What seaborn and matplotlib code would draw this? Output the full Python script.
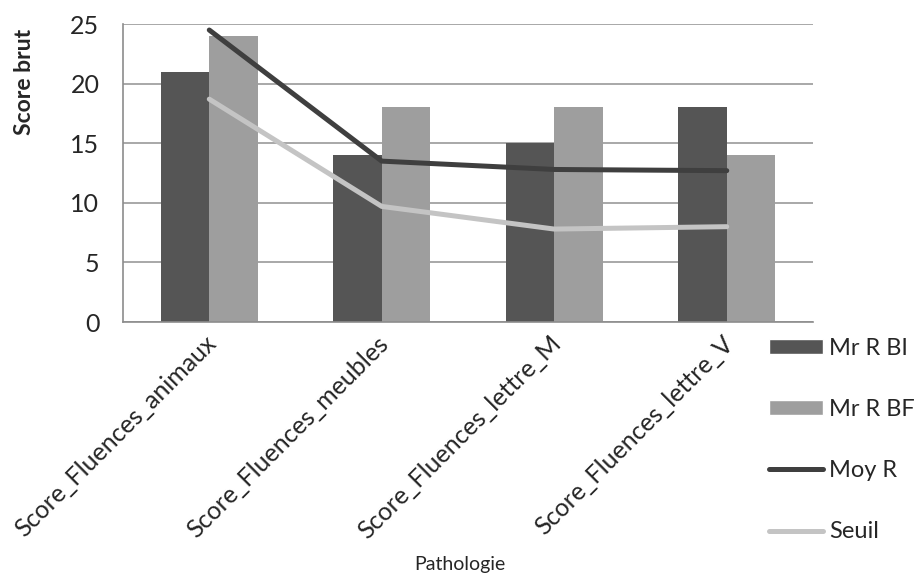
import numpy as np
import pandas as pd
import seaborn as sns
import matplotlib.pyplot as plt
import matplotlib.transforms as mtrans
from matplotlib.patches import Patch
from matplotlib.lines import Line2D

categories = ['Score_Fluences_animaux', 'Score_Fluences_meubles',
              'Score_Fluences_lettre_M', 'Score_Fluences_lettre_V']
mr_r_bi = [21, 14, 15, 18]
mr_r_bf = [24, 18, 18, 14]
moy_r = [24.5, 13.5, 12.8, 12.7]
seuil = [18.7, 9.7, 7.8, 8.0]

bar_colors = {'Mr R BI': '#555555', 'Mr R BF': '#9e9e9e'}
line_colors = {'Moy R': '#3f3f3f', 'Seuil': '#c4c4c4'}

bars = pd.DataFrame({
    'cat': categories * 2,
    'val': mr_r_bi + mr_r_bf,
    'serie': ['Mr R BI'] * 4 + ['Mr R BF'] * 4,
})
lines = pd.DataFrame({
    'cat': categories * 2,
    'val': moy_r + seuil,
    'serie': ['Moy R'] * 4 + ['Seuil'] * 4,
})

sns.set_style('white')
plt.rcParams['font.family'] = ['Lato', 'DejaVu Sans']

fig = plt.figure(figsize=(9.14, 5.73), dpi=100)
ax = fig.add_axes([0.1346, 0.438, 0.7549, 0.52])

sns.barplot(data=bars, x='cat', y='val', hue='serie', palette=bar_colors,
            width=0.56, gap=0, saturation=1, errorbar=None, linewidth=0,
            ax=ax, legend=False, zorder=2)
sns.pointplot(data=lines, x='cat', y='val', hue='serie', palette=line_colors,
              markers='', linestyles='-', errorbar=None, dodge=False,
              linewidth=3.6, ax=ax, legend=False)
for l in ax.lines:
    l.set_zorder(3)
    l.set_solid_capstyle('round')

ax.set_xlim(-0.5, 3.5)
ax.set_ylim(0, 25)
ax.set_yticks([0, 5, 10, 15, 20, 25])
ax.yaxis.grid(True, color='#9a9a9a', linewidth=1.2, zorder=0)
ax.set_axisbelow(True)
for s in ['top', 'right']:
    ax.spines[s].set_visible(False)
for s in ['left', 'bottom']:
    ax.spines[s].set_color('#8c8c8c')
    ax.spines[s].set_linewidth(1.2)

ax.tick_params(axis='y', length=6, color='#8c8c8c', labelsize=18, pad=11)
ax.set_xticks(np.arange(-0.5, 4, 1), minor=True)
ax.tick_params(axis='x', which='minor', length=6, color='#8c8c8c', direction='out')
ax.tick_params(axis='x', which='major', length=0, labelsize=18, pad=7)
ax.set_xticklabels(categories, rotation=45, ha='right', rotation_mode='anchor')
offset = mtrans.ScaledTranslation(-0.05, 0, fig.dpi_scale_trans)
for t in ax.get_xticklabels():
    t.set_transform(t.get_transform() + offset)

ax.set_xlabel('Pathologie', fontsize=14)
ax.xaxis.set_label_coords(0.488, -0.785)
ax.set_ylabel('Score brut', fontsize=16.5, fontweight='bold')
ax.yaxis.set_label_coords(-0.128, 0.805)

handles = [Patch(facecolor=bar_colors['Mr R BI']),
           Patch(facecolor=bar_colors['Mr R BF']),
           Line2D([], [], color=line_colors['Moy R'], lw=3.6, solid_capstyle='round'),
           Line2D([], [], color=line_colors['Seuil'], lw=3.6, solid_capstyle='round')]
fig.legend(handles, ['Mr R BI', 'Mr R BF', 'Moy R', 'Seuil'],
           loc='upper left', bbox_to_anchor=(0.841, 0.41), frameon=False,
           fontsize=17, handlelength=2.3, handleheight=0.6,
           labelspacing=1.7, handletextpad=0.25, borderpad=0, borderaxespad=0)

fig.savefig('out.png', dpi=100)
